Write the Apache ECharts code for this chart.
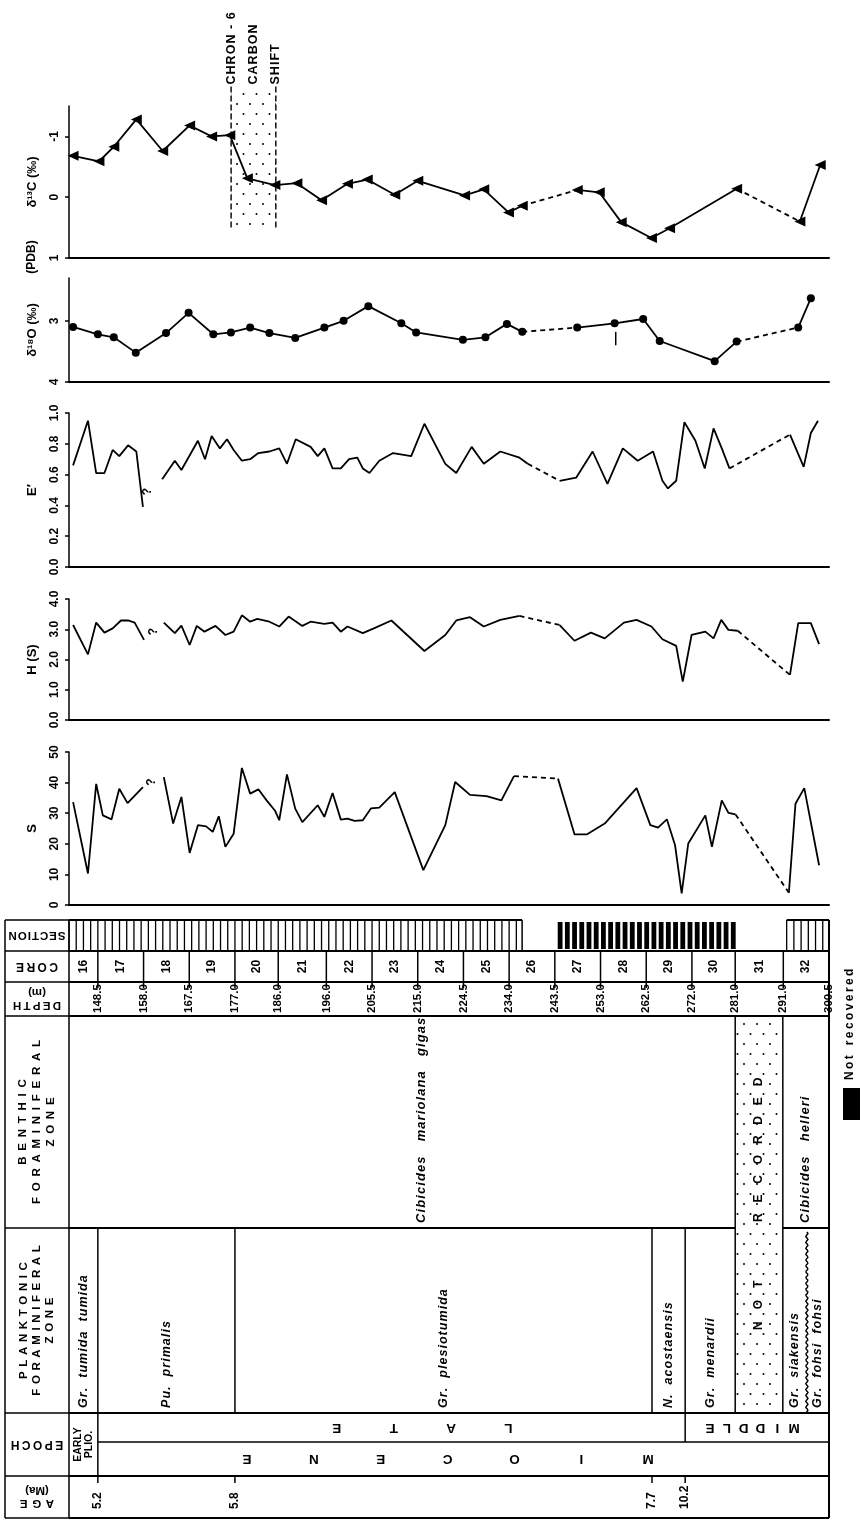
<!DOCTYPE html>
<html><head><meta charset="utf-8">
<script src="https://cdn.jsdelivr.net/npm/echarts@6/dist/echarts.min.js"></script>
<style>html,body{margin:0;padding:0;background:#fff}#c{width:861px;height:1521px}</style>
</head><body><div id="c"></div>
<script>
// ================= DATA =================
const depthBounds = [148.5,158.0,167.5,177.0,186.0,196.0,205.5,215.0,224.5,234.0,243.5,253.0,262.5,272.0,281.0,291.0,300.5];
const depthLabels = ['148.5','158.0','167.5','177.0','186.0','196.0','205.5','215.0','224.5','234.0','243.5','253.0','262.5','272.0','281.0','291.0','300.5'];
const coreNumbers = ['16','17','18','19','20','21','22','23','24','25','26','27','28','29','30','31','32'];
const recoveredRuns = [[142.5,236.7],[291.7,300.5]];
const lostRuns = [[244.1,281.3]];
const sectionLength = 1.5;

const chronShift = {from:176.2, to:185.5, labels:['CHRON - 6','CARBON','SHIFT']};

// delta 13C
const d13cDepth = [143.35,148.73,151.81,156.50,161.98,167.58,172.15,175.93,179.58,185.30,189.87,195.01,200.39,204.50,210.22,215.02,224.73,228.73,233.87,236.73,248.16,252.73,257.30,263.59,267.36,281.30,294.44,298.67];
const d13cValue = [-0.68,-0.59,-0.83,-1.28,-0.76,-1.18,-1.00,-1.02,-0.31,-0.20,-0.23,0.05,-0.22,-0.29,-0.04,-0.27,-0.03,-0.13,0.25,0.14,-0.12,-0.08,0.41,0.67,0.51,-0.14,0.40,-0.53];
const d13cDashed = [19,25];
// delta 18O
const d18oDepth = [143.35,148.50,151.81,156.38,162.67,167.36,172.50,176.16,180.16,184.16,189.53,195.59,199.59,204.73,211.59,214.67,224.39,229.07,233.53,236.73,248.16,255.93,261.87,265.30,276.73,281.30,294.10,296.73];
const d18oValue = [3.10,3.22,3.27,3.52,3.20,2.87,3.22,3.19,3.11,3.20,3.28,3.11,3.00,2.76,3.04,3.19,3.31,3.27,3.05,3.18,3.11,3.04,2.97,3.33,3.66,3.34,3.11,2.63];
const d18oDashed = [19,25];
const d18oBar = [256.16, 3.18, 3.40];

// E'
const eDepth = [143.35,146.44,148.15,149.87,151.58,152.95,154.78,156.50,157.87,161.87,164.50,165.87,169.30,170.78,172.15,173.87,175.35,176.73,178.44,180.16,181.87,184.16,186.21,187.81,189.64,192.73,194.21,195.59,197.30,199.01,200.73,202.44,203.58,204.96,207.01,209.87,213.64,216.39,220.73,223.01,226.21,228.73,232.16,236.16,237.87,244.50,247.93,251.36,254.44,257.64,260.73,263.93,265.87,267.01,268.73,270.44,272.73,274.67,276.50,278.21,279.81,292.39,295.24,296.73,298.21];
const eValue = [0.66,0.95,0.61,0.61,0.76,0.72,0.79,0.75,0.39,0.57,0.69,0.63,0.82,0.70,0.85,0.77,0.83,0.76,0.69,0.70,0.74,0.75,0.77,0.67,0.83,0.78,0.72,0.77,0.64,0.64,0.70,0.71,0.64,0.61,0.69,0.74,0.72,0.93,0.67,0.61,0.78,0.67,0.75,0.71,0.67,0.56,0.58,0.75,0.54,0.77,0.69,0.75,0.56,0.51,0.56,0.94,0.82,0.64,0.90,0.77,0.64,0.86,0.65,0.87,0.95];
const eGaps = [8], eDashed = [44,60];
const eQuery = [158.8, 0.49];

// H(S)
const hDepth = [143.35,146.44,148.15,149.87,151.58,153.30,154.78,156.15,158.10,162.21,164.50,165.87,167.58,169.07,170.67,172.96,175.01,176.73,178.44,180.16,181.64,184.16,186.21,188.16,191.01,192.73,195.59,197.30,199.01,200.39,203.58,205.87,209.53,216.39,220.73,223.01,225.87,228.73,232.16,236.16,244.50,247.59,251.01,253.87,257.87,260.50,263.59,265.87,268.73,270.10,271.93,274.79,276.50,278.10,279.59,281.53,292.39,294.10,296.73,298.44];
const hValue = [3.14,2.17,3.22,2.89,3.03,3.29,3.29,3.22,2.65,3.22,2.87,3.12,2.48,3.11,2.92,3.11,2.81,2.92,3.46,3.25,3.34,3.25,3.09,3.42,3.11,3.25,3.18,3.22,2.92,3.09,2.87,3.03,3.29,2.28,2.81,3.29,3.40,3.09,3.31,3.44,3.14,2.62,2.89,2.70,3.22,3.31,3.09,2.67,2.45,1.27,2.81,2.92,2.70,3.31,2.98,2.95,1.49,3.20,3.20,2.51];
const hGaps = [8], hDashed = [39,55];
const hQuery = [160.2, 2.92];

// S
const sDepth = [143.35,146.44,148.15,149.53,151.35,152.95,154.67,157.87,162.21,164.15,165.87,167.58,169.30,171.01,172.38,173.64,175.01,176.73,178.44,180.16,181.87,183.58,185.30,186.21,187.81,189.53,191.01,194.21,195.59,197.30,199.01,200.39,201.87,203.58,205.30,207.01,210.22,216.16,220.73,222.78,225.87,229.30,232.39,235.01,244.16,247.59,250.22,253.87,260.50,263.36,264.96,266.79,268.50,269.87,271.24,274.79,276.16,278.21,279.59,281.07,292.16,293.53,295.36,298.44];
const sValue = [33.6,10.3,39.6,29.3,28.0,38.0,33.3,38.5,41.8,26.6,35.3,17.0,26.1,25.7,23.9,29.0,19.0,23.3,44.8,36.4,37.8,34.2,30.9,27.7,42.7,31.5,27.1,32.6,28.8,36.6,27.9,28.2,27.5,27.7,31.6,31.8,36.9,11.4,26.1,40.2,36.0,35.6,34.2,42.1,41.3,23.1,23.1,26.6,38.2,26.1,25.3,28.0,19.5,3.8,20.1,29.3,19.0,34.2,30.1,29.6,4.0,33.1,38.2,13.0];
const sGaps = [7], sDashed = [43,59];
const sQuery = [159.6, 40.2];

// stratigraphy
const benthicZones = [
  {name:'Cibicides   mariolana   gigas', from:142.5, to:281.0, labelAt:215.7},
  {name:'Cibicides   helleri', from:290.9, to:300.5}
];
const notRecorded = {from:281.0, to:290.9};
const planktonicZones = [
  {name:'Gr.  tumida  tumida', from:142.5, to:148.5},
  {name:'Pu.  primalis', from:148.5, to:177.0},
  {name:'Gr.  plesiotumida', from:177.0, to:263.7},
  {name:'N.  acostaensis', from:263.7, to:270.6},
  {name:'Gr.  menardii', from:270.6, to:281.0},
  {name:'Gr.  siakensis', from:290.9, to:295.9},
  {name:'Gr.  fohsi  fohsi', from:295.9, to:300.5}
];
const unconformityAt = 295.9;
const epochWords = [
  {text:'LATE', center:216.0, pitch:11.9, level:'top'},
  {text:'MIDDLE', center:284.5, pitch:3.5, level:'top'},
  {text:'MIOCENE', center:221.2, pitch:13.9, level:'bottom'}
];
const epochBreaks = {plioMio:148.5, lateMiddle:270.6};
const ageTicks = [{label:'5.2', depth:148.5},{label:'5.8', depth:177.0},{label:'7.7', depth:263.7},{label:'10.2', depth:270.6}];

// ================= LAYOUT / STYLE =================
const AXMIN = 142.5, AXMAX = 300.5;
const FONT = "'Liberation Sans','DejaVu Sans',Arial,sans-serif";
const F = (size, weight='bold', style='normal') => `${style} ${weight} ${size}px ${FONT}`;
const HAIR='\u200A', THIN='\u2009', EN='\u2002';
const sp = (s, g) => Array.from(s).join(g);
const K = '#000';
const R = {sec:0, core:31, depth:62, ben:96, pl:308, ep:493, epMid:522, age:556, bot:598};

function dotCanvas() {
  const c = document.createElement('canvas'); c.width = 13; c.height = 20;
  const g = c.getContext('2d'); g.fillStyle = '#000';
  [[3,4],[9.5,14]].forEach(([x,y]) => { g.beginPath(); g.arc(x,y,1,0,Math.PI*2); g.fill(); });
  return c;
}
const DOTS = {image: dotCanvas(), repeat: 'repeat'};

function buildLines(xs, ys, gaps, dashes) {
  const solid = [], dashed = [];
  for (let i = 0; i < xs.length; i++) {
    solid.push([xs[i], ys[i]]);
    if (i < xs.length - 1 && (gaps.includes(i) || dashes.includes(i))) solid.push(['-','-']);
  }
  dashes.forEach(i => { dashed.push([xs[i], ys[i]], [xs[i+1], ys[i+1]], ['-','-']); });
  return {solid, dashed};
}

const grids = [[106,152],[278,104],[413,154],[599,121],[752,153],[920,598]]
  .map(([top,height]) => ({left:69, width:760, top, height, outerBoundsMode:'none'}));

const xAxes = grids.map((g,i) => ({
  type:'value', gridIndex:i, min:AXMIN, max:AXMAX, position:'bottom',
  axisLine:{show:i<5, onZero:false, lineStyle:{color:K, width:2}},
  axisTick:{show:false}, axisLabel:{show:false}, splitLine:{show:false}
}));

const LBL = {rotate:90, color:K, fontFamily:FONT, fontWeight:'bold', fontSize:12, margin:8};
const TCK = {show:true, length:4, lineStyle:{color:K, width:1.5}};
const yBase = (i, extra) => Object.assign({
  type:'value', gridIndex:i,
  axisLine:{show:true, onZero:false, lineStyle:{color:K, width:1.5}},
  axisTick:TCK, axisLabel:LBL,
  splitLine:{show:false},
  nameLocation:'middle', nameRotate:90, nameGap:30,
  nameTextStyle:{color:K, fontFamily:FONT, fontWeight:'bold', fontSize:13}
}, extra);

const yAxes = [
  yBase(0, {inverse:true, min:-1.5, max:1, name:'δ¹³C (‰)',
    axisLabel:Object.assign({}, LBL, {customValues:[-1,0,1]}),
    axisTick:Object.assign({}, TCK, {customValues:[-1,0,1]})}),
  yBase(1, {inverse:true, min:2.3, max:4, name:'δ¹⁸O (‰)',
    axisLabel:Object.assign({}, LBL, {customValues:[3,4]}),
    axisTick:Object.assign({}, TCK, {customValues:[3,4]})}),
  yBase(2, {min:0, max:1, interval:0.2, name:'E′', axisLabel:Object.assign({}, LBL, {formatter:v=>v.toFixed(1)})}),
  yBase(3, {min:0, max:4, interval:1, name:'H (S)', axisLabel:Object.assign({}, LBL, {formatter:v=>v.toFixed(1)})}),
  yBase(4, {min:0, max:50, interval:10, name:'S'}),
  {type:'value', gridIndex:5, min:0, max:R.bot, inverse:true, show:false}
];

const L13 = buildLines(d13cDepth, d13cValue, [], d13cDashed);
const L18 = buildLines(d18oDepth, d18oValue, [], d18oDashed);
const LE = buildLines(eDepth, eValue, eGaps, eDashed);
const LH = buildLines(hDepth, hValue, hGaps, hDashed);
const LS = buildLines(sDepth, sValue, sGaps, sDashed);

function lineSeries(idx, L, sym) {
  const common = {type:'line', xAxisIndex:idx, yAxisIndex:idx, connectNulls:false, silent:true, z:3,
    itemStyle:{color:K}, animation:false};
  return [
    Object.assign({}, common, {data:L.solid, lineStyle:{color:K, width:1.8},
      showSymbol:!!sym, symbol:sym ? sym.symbol : 'none', symbolSize:sym ? sym.size : 0, symbolRotate:sym ? sym.rotate : 0}),
    Object.assign({}, common, {data:L.dashed, lineStyle:{color:K, width:1.8, type:[5,4]}, showSymbol:false, symbol:'none'})
  ];
}

function querySeries(idx, pt) {
  return {type:'custom', xAxisIndex:idx, yAxisIndex:idx, data:[pt], silent:true,
    renderItem:(p, api) => {
      const c = api.coord([api.value(0), api.value(1)]);
      return {type:'text', x:c[0], y:c[1], rotation:Math.PI/2,
        style:{text:'?', fill:K, font:F(12), align:'center', verticalAlign:'middle'}};
    }};
}

const chronSeries = {type:'custom', xAxisIndex:0, yAxisIndex:0, data:[[chronShift.from, chronShift.to]], silent:true, z:1,
  renderItem:(p, api) => {
    const x1 = api.coord([chronShift.from, 0])[0], x2 = api.coord([chronShift.to, 0])[0];
    const yT = api.coord([AXMIN, -1.82])[1], yB = api.coord([AXMIN, 0.52])[1];
    const xs = [x1, (x1+x2)/2, x2];
    const ch = [
      {type:'rect', shape:{x:x1, y:yT, width:x2-x1, height:yB-yT}, style:{fill:DOTS}},
      {type:'line', shape:{x1:x1, y1:yT, x2:x1, y2:yB}, style:{stroke:K, lineWidth:1.4, lineDash:[6,3]}},
      {type:'line', shape:{x1:x2, y1:yT, x2:x2, y2:yB}, style:{stroke:K, lineWidth:1.4, lineDash:[6,3]}}
    ];
    chronShift.labels.forEach((t,i) => ch.push({type:'text', x:xs[i], y:yT-2, rotation:Math.PI/2,
      style:{text:sp(t, HAIR), fill:K, font:F(12.5), align:'left', verticalAlign:'middle'}}));
    return {type:'group', children:ch};
  }};

const barSeries = {type:'custom', xAxisIndex:1, yAxisIndex:1, data:[d18oBar], silent:true,
  renderItem:(p, api) => {
    const a = api.coord([api.value(0), api.value(1)]), b = api.coord([api.value(0), api.value(2)]);
    return {type:'line', shape:{x1:a[0], y1:a[1], x2:b[0], y2:b[1]}, style:{stroke:K, lineWidth:1.5}};
  }};

function renderStrat(params, api) {
  const cs = params.coordSys;
  const X = d => api.coord([d, 0])[0];
  const Y = r => api.coord([AXMIN, r])[1];
  const ch = [];
  const ln = (x1,y1,x2,y2,w=1.5) => ch.push({type:'line', shape:{x1,y1,x2,y2}, style:{stroke:K, lineWidth:w}});
  const tx = (text,x,y,rot,o={}) => ch.push({type:'text', x, y, rotation:rot,
    style:{text, fill:K, font:o.font||F(12), align:o.align||'center', verticalAlign:o.va||'middle', lineHeight:o.lh}});
  const L0 = cs.x - 64, L1 = cs.x, LM = (L0+L1)/2;
  const mid = (a,b) => (Y(a)+Y(b))/2;
  // left label column
  [R.sec,R.core,R.depth,R.ben,R.pl,R.ep,R.age,R.bot].forEach(r => ln(L0, Y(r), L1, Y(r)));
  ln(L0, Y(R.sec), L0, Y(R.bot)); ln(L1, Y(R.sec), L1, Y(R.bot));
  tx(sp('SECTION', HAIR), LM, mid(R.sec,R.core), Math.PI, {font:F(11.5)});
  tx(sp('CORE', THIN), LM, mid(R.core,R.depth), Math.PI, {font:F(12)});
  tx(sp('DEPTH', THIN)+'\n(m)', LM, mid(R.depth,R.ben), Math.PI, {lh:13, font:F(11.5)});
  tx([sp('BENTHIC',EN), sp('FORAMINIFERAL',EN), sp('ZONE',EN)].join('\n'), LM, mid(R.ben,R.pl), Math.PI/2, {lh:14, font:F(11.5)});
  tx([sp('PLANKTONIC',THIN+THIN), sp('FORAMINIFERAL',THIN+THIN), sp('ZONE',THIN+THIN)].join('\n'), LM, mid(R.pl,R.ep), Math.PI/2, {lh:13, font:F(11.5)});
  tx(sp('EPOCH', THIN), LM, mid(R.ep,R.age), Math.PI, {font:F(12)});
  tx(sp('AGE', THIN+THIN)+'\n(Ma)', LM, mid(R.age,R.bot), Math.PI, {lh:13, font:F(11.5)});

  // section row
  recoveredRuns.forEach(([a,b]) => {
    ln(X(a), Y(R.sec), X(b), Y(R.sec), 2);
    for (let d = a; d <= b + 1e-6; d += sectionLength) ln(X(d), Y(R.sec), X(d), Y(R.core), 1.3);
    ln(X(b), Y(R.sec), X(b), Y(R.core), 1.5);
  });
  lostRuns.forEach(([a,b]) => {
    for (let d = a; d < b - 0.3; d += sectionLength)
      ch.push({type:'rect', shape:{x:X(d), y:Y(R.sec)+2, width:X(d+1.0)-X(d), height:Y(R.core)-Y(R.sec)-4}, style:{fill:K}});
  });
  // main horizontal lines
  [R.core, R.depth, R.ben, R.ep, R.age, R.bot].forEach(r => ln(X(AXMIN), Y(r), X(AXMAX), Y(r), 2));
  ln(X(AXMIN), Y(R.pl), X(notRecorded.from), Y(R.pl), 2);
  ln(X(notRecorded.to), Y(R.pl), X(AXMAX), Y(R.pl), 2);
  ln(X(epochBreaks.plioMio), Y(R.epMid), X(AXMAX), Y(R.epMid), 1.5);
  ln(X(AXMAX), Y(R.sec), X(AXMAX), Y(R.bot), 2);
  // cores
  depthBounds.forEach((d,i) => {
    if (i < depthBounds.length - 1) ln(X(d), Y(R.core), X(d), Y(R.depth)+6, 1.5);
    tx(depthLabels[i], X(d), Y(R.ben)-3, Math.PI/2, {align:'left', font:F(11.5)});
  });
  coreNumbers.forEach((n,i) => {
    const a = i === 0 ? AXMIN : depthBounds[i-1], b = depthBounds[i];
    tx(n, (X(a)+X(b))/2, mid(R.core,R.depth), Math.PI/2, {font:F(12)});
  });
  // not recorded column
  ch.push({type:'rect', shape:{x:X(notRecorded.from), y:Y(R.ben), width:X(notRecorded.to)-X(notRecorded.from), height:Y(R.ep)-Y(R.ben)}, style:{fill:DOTS}});
  ln(X(notRecorded.from), Y(R.ben), X(notRecorded.from), Y(R.ep), 1.5);
  ln(X(notRecorded.to), Y(R.ben), X(notRecorded.to), Y(R.ep), 1.5);
  const nrx = (X(notRecorded.from)+X(notRecorded.to))/2;
  tx(sp('NOT', EN+EN), nrx, Y(R.ep)-83, Math.PI/2, {align:'left', font:F(12)});
  tx(sp('RECORDED', EN+THIN+THIN), nrx, Y(R.pl)-6, Math.PI/2, {align:'left', font:F(12)});
  // benthic
  benthicZones.forEach(z => tx(sp(z.name, HAIR), X(z.labelAt != null ? z.labelAt : (z.from+z.to)/2), Y(R.pl)-5, Math.PI/2,
    {align:'left', font:F(13,'bold','italic')}));
  // planktonic
  planktonicZones.forEach((z,i) => {
    if (i > 0 && z.from !== notRecorded.to && z.from !== unconformityAt) ln(X(z.from), Y(R.pl), X(z.from), Y(R.ep), 1.5);
    tx(sp(z.name, HAIR), X((z.from+z.to)/2), Y(R.ep)-5, Math.PI/2, {align:'left', font:F(12.5,'bold','italic')});
  });
  const pts = []; const xu = X(unconformityAt);
  for (let y = Y(R.pl)+4, k = 0; y <= Y(R.ep); y += 1.5, k++) pts.push([xu + 1.1*Math.sin(k*1.6), y]);
  ch.push({type:'polyline', shape:{points:pts}, style:{stroke:K, lineWidth:1.4, fill:null}});
  // epoch
  ln(X(epochBreaks.plioMio), Y(R.ep), X(epochBreaks.plioMio), Y(R.age), 1.5);
  ln(X(epochBreaks.lateMiddle), Y(R.ep), X(epochBreaks.lateMiddle), Y(R.epMid), 1.5);
  tx('EARLY\nPLIO.', (X(AXMIN)+X(epochBreaks.plioMio))/2, mid(R.ep,R.age), Math.PI/2, {font:F(10.5), lh:11});
  epochWords.forEach(w => {
    const letters = Array.from(w.text), n = letters.length;
    const y = w.level === 'top' ? mid(R.ep,R.epMid) : mid(R.epMid,R.age);
    letters.forEach((c,i) => tx(c, X(w.center + ((n-1)/2 - i)*w.pitch), y, Math.PI, {font:F(13.5)}));
  });
  // ages
  ageTicks.forEach(a => {
    ln(X(a.depth), Y(R.age), X(a.depth), Y(R.age)+7, 1.5);
    tx(a.label, X(a.depth), Y(R.bot)-9, Math.PI/2, {align:'left', font:F(12)});
  });
  return {type:'group', children:ch};
}

const stratSeries = {type:'custom', xAxisIndex:5, yAxisIndex:5, data:[[AXMIN,0]], silent:true, clip:false, renderItem:renderStrat};

const option = {
  animation:false,
  backgroundColor:'#fff',
  grid:grids, xAxis:xAxes, yAxis:yAxes,
  graphic:[
    {type:'text', x:32, y:257, rotation:Math.PI/2, style:{text:'(PDB)', fill:K, font:F(12), align:'center', verticalAlign:'middle'}},
    {type:'rect', shape:{x:843, y:1088, width:17, height:32}, style:{fill:K}},
    {type:'text', x:850, y:1080, rotation:Math.PI/2, style:{text:sp('Not',THIN)+'   '+sp('recovered',THIN), fill:K, font:F(12), align:'left', verticalAlign:'middle'}}
  ],
  series:[
    chronSeries,
    ...lineSeries(0, L13, {symbol:'triangle', size:[10,11], rotate:90}),
    ...lineSeries(1, L18, {symbol:'circle', size:8, rotate:0}),
    barSeries,
    ...lineSeries(2, LE, null),
    ...lineSeries(3, LH, null),
    ...lineSeries(4, LS, null),
    querySeries(2, eQuery), querySeries(3, hQuery), querySeries(4, sQuery),
    stratSeries
  ]
};
const chart = echarts.init(document.getElementById('c'), null, {renderer:'canvas'});
chart.setOption(option);
</script></body></html>
